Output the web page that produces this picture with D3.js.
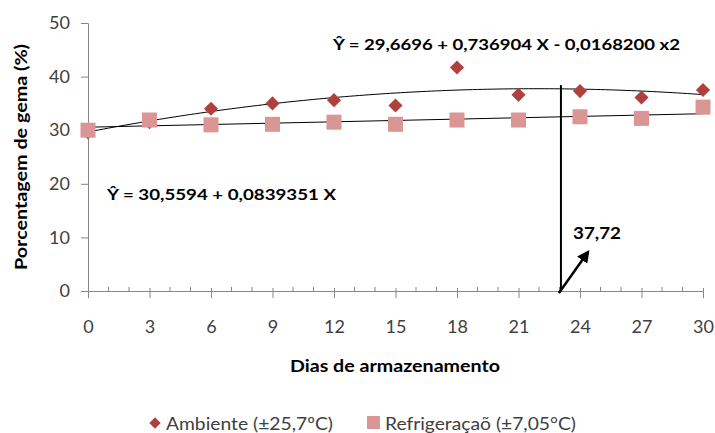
<!DOCTYPE html>
<html><head><meta charset="utf-8">
<script src="https://cdn.jsdelivr.net/npm/d3@7/dist/d3.min.js"></script>
<style>body{margin:0;background:#fff;} svg{display:block;font-family:Lato, "Open Sans", sans-serif;}</style>
</head><body><svg id="c" width="715" height="433"></svg>
<script>
const days = [0,3,6,9,12,15,18,21,24,27,30];
const ambiente = [29.6,31.5,34.0,35.0,35.6,34.6,41.7,36.6,37.3,36.1,37.5];
const refrigeracao = [30.0,31.9,31.0,31.1,31.5,31.1,31.9,31.9,32.5,32.2,34.3];
const yTicks = [0,10,20,30,40,50];
const xTicks = [0,3,6,9,12,15,18,21,24,27,30];
const quadCoef = [29.6696, 0.736904, -0.0168200];
const linCoef = [30.5594, 0.0839351];
const maxDay = 23.07, maxVal = 38.4;
const seriesNames = ["Ambiente (±25,7ºC)", "Refrigeraçaõ (±7,05°C)"];
const colors = ["#B0403C", "#D99694"];

const svg = d3.select("#c");
const x = d3.scaleLinear().domain([0,30]).range([88,703]);
const y = d3.scaleLinear().domain([0,50]).range([291,23]);

// axes
const gy = svg.append("g").attr("transform","translate(88,0)")
  .call(d3.axisLeft(y).tickValues(yTicks).tickSize(7).tickPadding(11));
const gx = svg.append("g").attr("transform","translate(0,291)")
  .call(d3.axisBottom(x).tickValues(xTicks).tickSize(7).tickPadding(22));
[gy,gx].forEach(g=>{
  g.select(".domain").attr("stroke","#868686");
  g.selectAll(".tick line").attr("stroke","#868686");
  g.selectAll(".tick text").attr("fill","#404040").attr("font-size",18).attr("font-family","Lato, sans-serif");
});
gx.selectAll(".tick line").attr("y1",-3);
// minor ticks
const minor = d3.range(0,31).filter(d=>d%3!==0);
svg.append("g").selectAll("line").data(minor).join("line")
  .attr("x1",d=>x(d)).attr("x2",d=>x(d)).attr("y1",y(0)-4).attr("y2",y(0))
  .attr("stroke","#868686");

// regression curves
const xs = d3.range(0,30.01,0.25);
const line = d3.line().x(d=>x(d[0])).y(d=>y(d[1]));
svg.append("path").datum(xs.map(d=>[d, quadCoef[0]+quadCoef[1]*d+quadCoef[2]*d*d]))
  .attr("d",line).attr("fill","none").attr("stroke","#000").attr("stroke-width",1);
svg.append("path").datum([0,30].map(d=>[d, linCoef[0]+linCoef[1]*d]))
  .attr("d",line).attr("fill","none").attr("stroke","#000").attr("stroke-width",1);

// points
svg.append("g").selectAll("path").data(days.map((d,i)=>[d,ambiente[i]])).join("path")
  .attr("d", d3.symbol().type(d3.symbolSquare).size(100)())
  .attr("transform",d=>`translate(${x(d[0])},${y(d[1])}) rotate(45)`)
  .attr("fill",colors[0]);
svg.append("g").selectAll("rect").data(days.map((d,i)=>[d,refrigeracao[i]])).join("rect")
  .attr("x",d=>x(d[0])-7.5).attr("y",d=>y(d[1])-7.5).attr("width",15).attr("height",15)
  .attr("fill",colors[1]);

// vertical max line and arrow
svg.append("line").attr("x1",x(maxDay)).attr("x2",x(maxDay)).attr("y1",y(maxVal)).attr("y2",y(0))
  .attr("stroke","#000").attr("stroke-width",2);
svg.append("defs").append("marker").attr("id","ah").attr("viewBox","0 0 10 10")
  .attr("refX",8).attr("refY",5).attr("markerWidth",5).attr("markerHeight",5).attr("orient","auto")
  .attr("markerUnits","strokeWidth")
  .append("path").attr("d","M0,0 L10,5 L0,10 z").attr("fill","#000");
svg.append("line").attr("x1",x(maxDay)-2).attr("y1",y(0)+2).attr("x2",588).attr("y2",252)
  .attr("stroke","#000").attr("stroke-width",2.5).attr("marker-end","url(#ah)");
svg.append("text").attr("x",573).attr("y",239).text("37,72")
  .attr("font-weight","bold").attr("font-size",17).attr("fill","#000")
  .attr("textLength",48).attr("lengthAdjust","spacingAndGlyphs");

// equations
svg.append("text").attr("x",333).attr("y",50).text("Ŷ = 29,6696 + 0,736904 X - 0,0168200 x2")
  .attr("font-weight","bold").attr("font-size",15).attr("textLength",347).attr("lengthAdjust","spacingAndGlyphs");
svg.append("text").attr("x",107).attr("y",200).text("Ŷ = 30,5594 + 0,0839351 X")
  .attr("font-weight","bold").attr("font-size",15).attr("textLength",229).attr("lengthAdjust","spacingAndGlyphs");

// axis titles
svg.append("text").attr("x",395).attr("y",372).attr("text-anchor","middle")
  .attr("font-weight","bold").attr("font-size",17).attr("fill","#000")
  .attr("textLength",210).attr("lengthAdjust","spacingAndGlyphs").text("Dias de armazenamento");
svg.append("text").attr("transform","translate(27,157) rotate(-90)").attr("text-anchor","middle")
  .attr("font-weight","bold").attr("font-size",17).attr("fill","#000")
  .attr("textLength",226).attr("lengthAdjust","spacingAndGlyphs").text("Porcentagem de gema (%)");

// legend
const lg = svg.append("g");
lg.append("path").attr("d", d3.symbol().type(d3.symbolSquare).size(64)())
  .attr("transform","translate(155,423) rotate(45)").attr("fill",colors[0]);
lg.append("text").attr("x",166).attr("y",430).attr("font-size",18).attr("fill","#404040")
  .attr("textLength",167).attr("lengthAdjust","spacingAndGlyphs").text(seriesNames[0]);
lg.append("rect").attr("x",367).attr("y",416).attr("width",13).attr("height",13).attr("fill",colors[1]);
lg.append("text").attr("x",385).attr("y",430).attr("font-size",18).attr("fill","#404040")
  .attr("textLength",191).attr("lengthAdjust","spacingAndGlyphs").text(seriesNames[1]);
</script></body></html>
